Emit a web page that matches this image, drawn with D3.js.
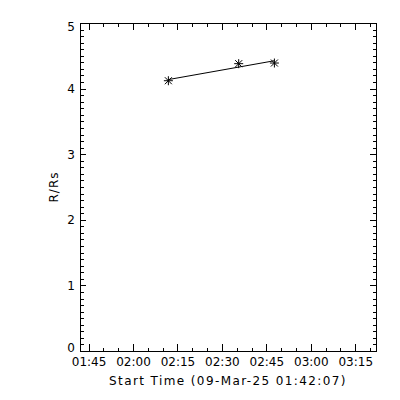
<!DOCTYPE html>
<html>
<head>
<meta charset="utf-8">
<script src="https://cdn.jsdelivr.net/npm/d3@7"></script>
<style>
  body { margin: 0; background: #fff; }
  text { font-family: "DejaVu Sans", sans-serif; font-size: 12px; fill: #000; }
</style>
</head>
<body>
<svg id="chart" width="400" height="400"></svg>
<script>
// Data
const startTime = "2025-03-09T01:42:07Z";
const endTime = "2025-03-09T03:22:00Z";
const times = ["2025-03-09T02:11:56Z", "2025-03-09T02:35:40Z", "2025-03-09T02:47:43Z"];
const heights = [4.12, 4.38, 4.39];
const yTicks = [0, 1, 2, 3, 4, 5];
const xTitle = "Start Time (09-Mar-25 01:42:07)";
const yTitle = "R/Rs";

// plot box
const box = { left: 80, right: 376, top: 23, bottom: 351 };

const svg = d3.select("#chart");
svg.append("rect").attr("width", 400).attr("height", 400).attr("fill", "#fff");

const x = d3.scaleUtc()
  .domain([new Date(startTime), new Date(endTime)])
  .range([box.left, box.right]);

const y = d3.scaleLinear().domain([0, 5]).range([box.bottom, box.top]);

const points = times.map((t, i) => ({ t: new Date(t), v: heights[i] }));

// axes: ticks drawn inward, IDL style
function addAxis(axis, tx, ty) {
  const g = svg.append("g")
    .attr("transform", `translate(${tx},${ty})`)
    .call(axis);
  g.select(".domain").remove();
  g.selectAll("line").attr("shape-rendering", "crispEdges");
  return g;
}

const fmt = d3.utcFormat("%H:%M");

// bottom
addAxis(d3.axisBottom(x).ticks(d3.utcMinute.every(5)).tickSize(-3.5).tickFormat(""), 0, box.bottom);
addAxis(d3.axisBottom(x).ticks(d3.utcMinute.every(15)).tickSize(-7).tickPadding(6).tickFormat(fmt), 0, box.bottom);
// top
addAxis(d3.axisTop(x).ticks(d3.utcMinute.every(5)).tickSize(-3.5).tickFormat(""), 0, box.top);
addAxis(d3.axisTop(x).ticks(d3.utcMinute.every(15)).tickSize(-7).tickFormat(""), 0, box.top);
// left
addAxis(d3.axisLeft(y).ticks(50).tickSize(-3.5).tickFormat(""), box.left, 0);
const yAxisG = addAxis(d3.axisLeft(y).tickValues(yTicks).tickSize(-6).tickPadding(5).tickFormat(d3.format("d")), box.left, 0);
// end labels sit just inside the frame
yAxisG.selectAll(".tick text")
  .attr("y", d => (d === 0 ? -3 : d === 5 ? 4 : 0));
// right
addAxis(d3.axisRight(y).ticks(50).tickSize(-3.5).tickFormat(""), box.right, 0);
addAxis(d3.axisRight(y).tickValues(yTicks).tickSize(-6).tickFormat(""), box.right, 0);

svg.selectAll(".tick text").style("font-family", "DejaVu Sans").style("font-size", "12px");

// frame
svg.append("rect")
  .attr("x", box.left + 0.5).attr("y", box.top + 0.5)
  .attr("width", box.right - box.left).attr("height", box.bottom - box.top)
  .attr("fill", "none").attr("stroke", "#000").attr("stroke-width", 1)
  .attr("shape-rendering", "crispEdges");

// titles
svg.append("text")
  .attr("x", (box.left + box.right) / 2).attr("y", 385)
  .attr("text-anchor", "middle")
  .style("letter-spacing", "1.4px")
  .text(xTitle);

svg.append("text")
  .attr("transform", `translate(58,${(box.top + box.bottom) / 2}) rotate(-90)`)
  .attr("text-anchor", "middle")
  .style("letter-spacing", "1px")
  .text(yTitle);

// linear fit
const xs = points.map(d => +d.t), vs = points.map(d => d.v);
const mx = d3.mean(xs), mv = d3.mean(vs);
const slope = d3.sum(xs, (t, i) => (t - mx) * (vs[i] - mv)) / d3.sum(xs, t => (t - mx) ** 2);
const fit = t => mv + slope * (t - mx);
const ends = d3.extent(xs);

svg.append("line")
  .attr("x1", x(ends[0])).attr("y1", y(fit(ends[0])))
  .attr("x2", x(ends[1])).attr("y2", y(fit(ends[1])))
  .attr("stroke", "#000").attr("stroke-width", 1);

// asterisk markers
svg.append("g")
  .selectAll("path")
  .data(points)
  .join("path")
  .attr("transform", d => `translate(${x(d.t)},${y(d.v)})`)
  .attr("d", "M-4.5,0H4.5M0,-4.5V4.5M-3.5,-3.5L3.5,3.5M-3.5,3.5L3.5,-3.5")
  .attr("fill", "none")
  .attr("stroke", "#000")
  .attr("stroke-width", 1);
</script>
</body>
</html>
